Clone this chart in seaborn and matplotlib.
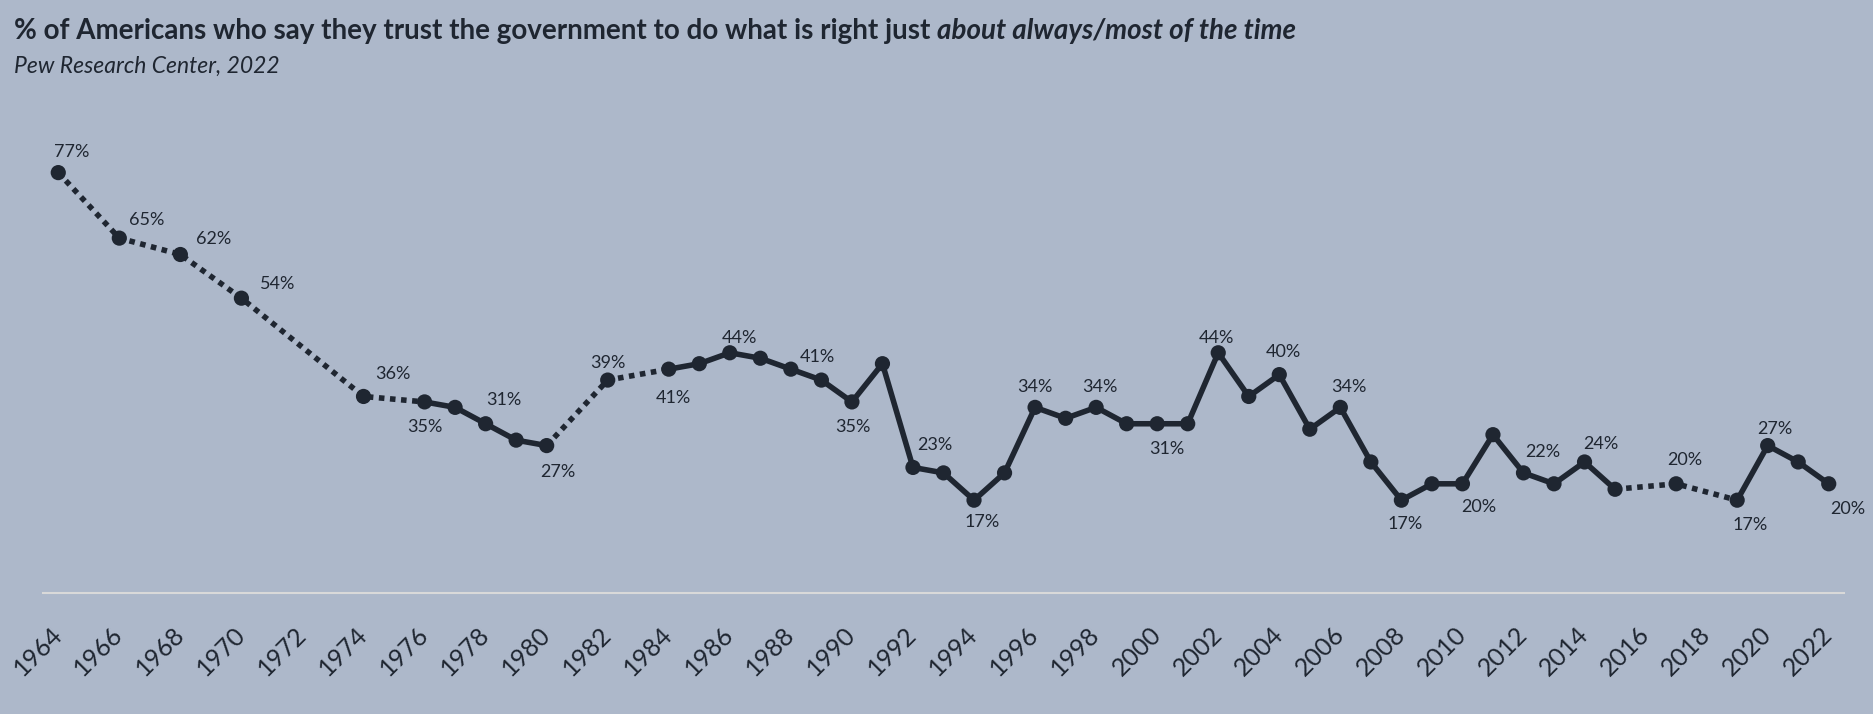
import matplotlib
matplotlib.use("Agg")
import matplotlib.pyplot as plt
import pandas as pd
import seaborn as sns

# Pew Research Center, trust in government (about always / most of the time)
years = [1964, 1966, 1968, 1970, 1974, 1976, 1977, 1978, 1979, 1980,
         1982, 1984, 1985, 1986, 1987, 1988, 1989, 1990, 1991, 1992,
         1993, 1994, 1995, 1996, 1997, 1998, 1999, 2000, 2001, 2002,
         2003, 2004, 2005, 2006, 2007, 2008, 2009, 2010, 2011, 2012,
         2013, 2014, 2015, 2017, 2019, 2020, 2021, 2022]
values = [77, 65, 62, 54, 36, 35, 34, 31, 28, 27,
          39, 41, 42, 44, 43, 41, 39, 35, 42, 23,
          22, 17, 22, 34, 32, 34, 31, 31, 31, 44,
          36, 40, 30, 34, 24, 17, 20, 20, 29, 22,
          20, 24, 19, 20, 17, 27, 24, 20]
label_years = [1964, 1966, 1968, 1970, 1974, 1976, 1978, 1980, 1982, 1984,
               1986, 1988, 1990, 1992, 1994, 1996, 1998, 2000, 2002, 2004,
               2006, 2008, 2010, 2012, 2014, 2017, 2019, 2020, 2022]
tick_years = list(range(1964, 2023, 2))

title_main = "% of Americans who say they trust the government to do what is right just "
title_em = "about always/most of the time"
subtitle = "Pew Research Center, 2022"

# label offsets in points (x, y) relative to each labelled point
label_offsets = {
    1964: (10, 15), 1966: (20, 13), 1968: (24, 11), 1970: (26, 10),
    1974: (21, 16), 1976: (0, -18), 1978: (13, 17), 1980: (8, -19),
    1982: (0, 12), 1984: (3, -21), 1986: (7, 11), 1988: (19, 9),
    1990: (1, -18), 1992: (16, 16), 1994: (6, -16), 1996: (0, 15),
    1998: (3, 15), 2000: (7, -18), 2002: (-1, 11), 2004: (3, 16),
    2006: (6, 15), 2008: (3, -17), 2010: (12, -17), 2012: (14, 15),
    2014: (12, 13), 2017: (6, 17), 2019: (9, -18), 2020: (5, 12),
    2022: (14, -18),
}

BG = "#adb8ca"
DARK = "#1f2631"

sns.set_style("white", {"axes.facecolor": BG, "figure.facecolor": BG})
plt.rcParams["font.family"] = ["Lato", "DejaVu Sans"]

df = pd.DataFrame({"year": years, "pct": values})

fig = plt.figure(figsize=(18.73, 7.14), dpi=100)
ax = fig.add_axes([43 / 1873, (714 - 593) / 714, (1844 - 43) / 1873, (593 - 100) / 714])

# split into runs: consecutive years solid, gaps dotted
runs = []
cur = [0]
cur_solid = None
for i in range(len(years) - 1):
    solid = years[i + 1] - years[i] == 1
    if cur_solid is None or solid == cur_solid:
        cur.append(i + 1)
        cur_solid = solid
    else:
        runs.append((cur, cur_solid))
        cur = [i, i + 1]
        cur_solid = solid
runs.append((cur, cur_solid))

for idx, solid in runs:
    seg = df.iloc[idx]
    sns.lineplot(data=seg, x="year", y="pct", ax=ax, color=DARK, lw=4,
                 linestyle="-" if solid else (0, (1, 1)), zorder=2)

sns.scatterplot(data=df, x="year", y="pct", ax=ax, color=DARK, s=120,
                edgecolor="none", linewidth=0, zorder=3)

for yr in label_years:
    v = values[years.index(yr)]
    ax.annotate(f"{v}%", (yr, v), xytext=label_offsets[yr], textcoords="offset points",
                ha="center", va="center", fontsize=13, color=DARK)

ax.set_xlim(1963.5, 2022.5)
ax.set_ylim(0, 90.3)
ax.set_xlabel("")
ax.set_ylabel("")
ax.set_yticks([])
ax.set_xticks(tick_years)
ax.set_xticklabels([str(t) for t in tick_years], rotation=45, ha="right",
                   va="center", rotation_mode="anchor", fontsize=18, color=DARK)
ax.tick_params(axis="x", length=0, pad=27)
for s in ["top", "left", "right"]:
    ax.spines[s].set_visible(False)
ax.spines["bottom"].set_color("#d9d9d9")
ax.spines["bottom"].set_linewidth(1.5)

# title with italic ending
t1 = fig.text(14 / 1873, 1 - 31 / 714, title_main, fontsize=20, fontweight="bold",
              color=DARK, va="center", ha="left")
fig.canvas.draw()
bb = t1.get_window_extent(renderer=fig.canvas.get_renderer())
fig.text(bb.x1 / fig.bbox.width, 1 - 31 / 714, title_em, fontsize=20, fontweight="bold",
         fontstyle="italic", color=DARK, va="center", ha="left")
fig.text(14 / 1873, 1 - 66 / 714, subtitle, fontsize=16.5, fontstyle="italic",
         color=DARK, va="center", ha="left")

fig.savefig("out.png", dpi=100, facecolor=BG)
